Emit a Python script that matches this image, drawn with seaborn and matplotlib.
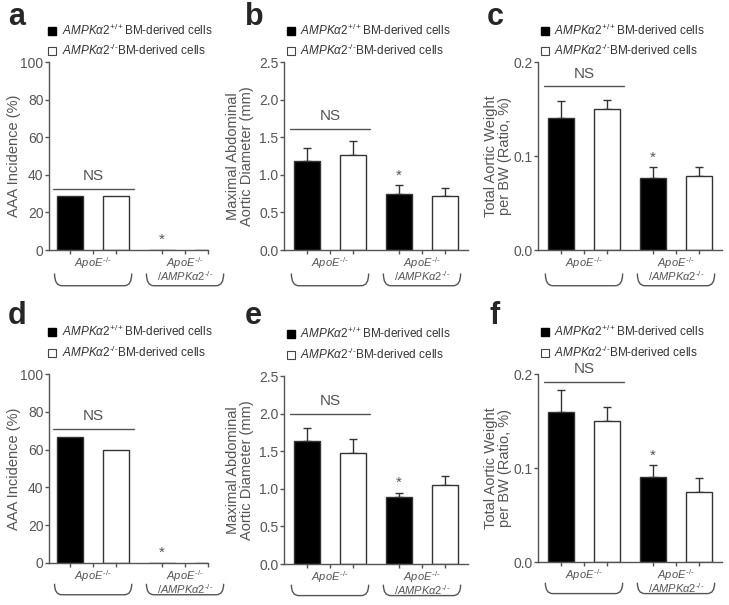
import numpy as np
import pandas as pd
import matplotlib
matplotlib.use("Agg")
import matplotlib.pyplot as plt
import seaborn as sns
from matplotlib.path import Path
from matplotlib.patches import PathPatch
from matplotlib.lines import Line2D
from matplotlib.transforms import blended_transform_factory

# data
groups = ["$ApoE^{\u2010/\u2010}$", "$ApoE^{\u2010/\u2010}$\n$/AMPK\\alpha2^{\u2010/\u2010}$"]
genotypes = [r"$AMPK\alpha2^{+/+}$BM-derived cells", "$AMPK\\alpha2^{\u2010/\u2010}$BM-derived cells"]

# a: AAA incidence, first cohort
a_wt = [28.6, 0.0]
a_ko = [28.6, 0.0]
# b: maximal abdominal aortic diameter (mm)
b_wt = [1.19, 0.75]
b_wt_err = [0.17, 0.11]
b_ko = [1.26, 0.72]
b_ko_err = [0.19, 0.11]
# c: total aortic weight / BW
c_wt = [0.140, 0.077]
c_wt_err = [0.019, 0.011]
c_ko = [0.150, 0.079]
c_ko_err = [0.010, 0.009]
# d: AAA incidence, second cohort
d_wt = [66.7, 0.0]
d_ko = [60.0, 0.0]
# e
e_wt = [1.63, 0.89]
e_wt_err = [0.18, 0.06]
e_ko = [1.48, 1.05]
e_ko_err = [0.18, 0.12]
# f
f_wt = [0.160, 0.090]
f_wt_err = [0.023, 0.013]
f_ko = [0.150, 0.075]
f_ko_err = [0.015, 0.014]

ylabels = ["AAA Incidence (%)", "Maximal Abdominal\nAortic Diameter (mm)",
           "Total Aortic Weight\nper BW (Ratio, %)"]
yticks = [[0, 20, 40, 60, 80, 100], [0.0, 0.5, 1.0, 1.5, 2.0, 2.5], [0.0, 0.1, 0.2]]
ytick_fmt = ["{:.0f}", "{:.1f}", "{:.1f}"]
ns_level = [32.4, 1.61, 0.174, 71.0, 2.0, 0.192]

sns.set_style("ticks")
plt.rcParams["font.family"] = ["Liberation Sans", "DejaVu Sans"]
plt.rcParams["mathtext.fontset"] = "custom"
plt.rcParams["mathtext.rm"] = "Liberation Sans"
plt.rcParams["mathtext.it"] = "Liberation Sans:italic"
plt.rcParams["mathtext.bf"] = "Liberation Sans:bold"

grey = "#555555"
W, H = 729, 605
fig = plt.figure(figsize=(W / 100, H / 100), dpi=100)

# axes boxes in pixels: left, top, width, height
boxes = [(49, 62, 159, 188), (284, 62, 184, 188), (538, 62, 184, 188),
         (49, 374, 159, 189), (284, 376, 184, 188), (538, 374, 184, 188)]
xlims = [(-0.48, 1.25), (-0.5, 1.5), (-0.5, 1.5)] * 2
label_x = [-0.176, -0.163, -0.141]
letters = ["a", "b", "c", "d", "e", "f"]
letter_pos = [(8, 17), (245, 17), (487, 17), (8, 316), (245, 316), (489, 316)]

panels = [(a_wt, None, a_ko, None), (b_wt, b_wt_err, b_ko, b_ko_err),
          (c_wt, c_wt_err, c_ko, c_ko_err), (d_wt, None, d_ko, None),
          (e_wt, e_wt_err, e_ko, e_ko_err), (f_wt, f_wt_err, f_ko, f_ko_err)]


def brace(ax, xc, half, y_top, y_bot):
    trans = blended_transform_factory(ax.transData, ax.transAxes)
    r = 0.08
    verts = [(xc - half, y_top), (xc - half, y_bot), (xc - half + r, y_bot),
             (xc + half - r, y_bot), (xc + half, y_bot), (xc + half, y_top)]
    codes = [Path.MOVETO, Path.CURVE3, Path.CURVE3, Path.LINETO, Path.CURVE3, Path.CURVE3]
    ax.add_patch(PathPatch(Path(verts, codes), transform=trans, fill=False,
                           edgecolor=grey, lw=1, clip_on=False))


for i, (wt, wt_err, ko, ko_err) in enumerate(panels):
    left, top, w, h = boxes[i]
    ax = fig.add_axes([left / W, 1 - (top + h) / H, w / W, h / H])
    kind = i % 3
    df = pd.DataFrame({
        "group": groups * 2,
        "genotype": [genotypes[0]] * 2 + [genotypes[1]] * 2,
        "value": wt + ko,
    })
    sns.barplot(data=df, x="group", y="value", hue="genotype", hue_order=genotypes,
                palette=["black", "white"], edgecolor="#333333", linewidth=1,
                width=1.0, gap=0.42, errorbar=None, legend=False, ax=ax)

    bars = ax.patches[:4]
    xs = [b.get_x() + b.get_width() / 2 for b in bars]
    hs = [b.get_height() for b in bars]
    errs = (wt_err or [0, 0]) + (ko_err or [0, 0])
    if wt_err is not None:
        ax.errorbar(xs, hs, yerr=[np.zeros(4), errs], fmt="none", ecolor="#333333",
                    elinewidth=1, capsize=3, capthick=1, zorder=0.9)

    ymax = yticks[kind][-1]
    ax.set_ylim(0, ymax)
    ax.set_xlim(*xlims[i])
    ax.set_yticks(yticks[kind])
    ax.set_yticklabels([ytick_fmt[kind].format(t) for t in yticks[kind]])
    ax.set_xticks([0, 1])
    ax.set_xticklabels(groups, fontsize=8, color=grey, linespacing=0.8)
    ax.set_xticks(xs, minor=True)
    ax.tick_params(axis="y", labelsize=10, colors=grey, labelcolor=grey, length=3, width=1, pad=1)
    ax.tick_params(axis="x", which="both", colors=grey, labelcolor=grey, length=3, width=1, pad=1)
    ax.set_xlabel("")
    ax.set_ylabel(ylabels[kind], fontsize=10.5, color=grey, linespacing=1.0)
    ax.yaxis.set_label_coords(label_x[kind], 0.5)
    for s in ["top", "right"]:
        ax.spines[s].set_visible(False)
    for s in ["left", "bottom"]:
        ax.spines[s].set_color(grey)
        ax.spines[s].set_linewidth(1)

    # NS over the first group, asterisk over the second black bar
    ax.plot([-0.44, 0.44], [ns_level[i]] * 2, color=grey, lw=1, clip_on=False)
    ax.text(0, ns_level[i] + 0.03 * ymax, "NS", ha="center", va="bottom",
            fontsize=11, color=grey, clip_on=False)
    ax.text(xs[1], hs[1] + errs[1] + 0.015 * ymax, "*", ha="center", va="bottom",
            fontsize=11, color=grey)

    # braces under the group labels
    if i < 3:
        y_top, y_bot = -0.125, -0.19
    else:
        y_top, y_bot = -0.11, -0.168
    brace(ax, 0, 0.42, y_top, y_bot)
    brace(ax, 1, 0.42, y_top, y_bot)

    handles = [Line2D([], [], marker="s", ls="", markersize=6, markerfacecolor="black",
                      markeredgecolor="black"),
               Line2D([], [], marker="s", ls="", markersize=6, markerfacecolor="white",
                      markeredgecolor="#444444", markeredgewidth=0.8)]
    leg_y = 1.02 if i < 3 else 1.075
    ax.legend(handles, genotypes, loc="lower left", bbox_to_anchor=(-0.01 if kind == 0 else 0.01, leg_y),
              frameon=False, fontsize=8.5, handlelength=0.8, handletextpad=0.4,
              labelspacing=0.45, borderpad=0, borderaxespad=0, labelcolor="#333333")

    lx, ly = letter_pos[i]
    fig.text(lx / W, 1 - ly / H, letters[i], fontsize=22, fontweight="bold",
             ha="left", va="center")

fig.savefig("out.png", dpi=100)
